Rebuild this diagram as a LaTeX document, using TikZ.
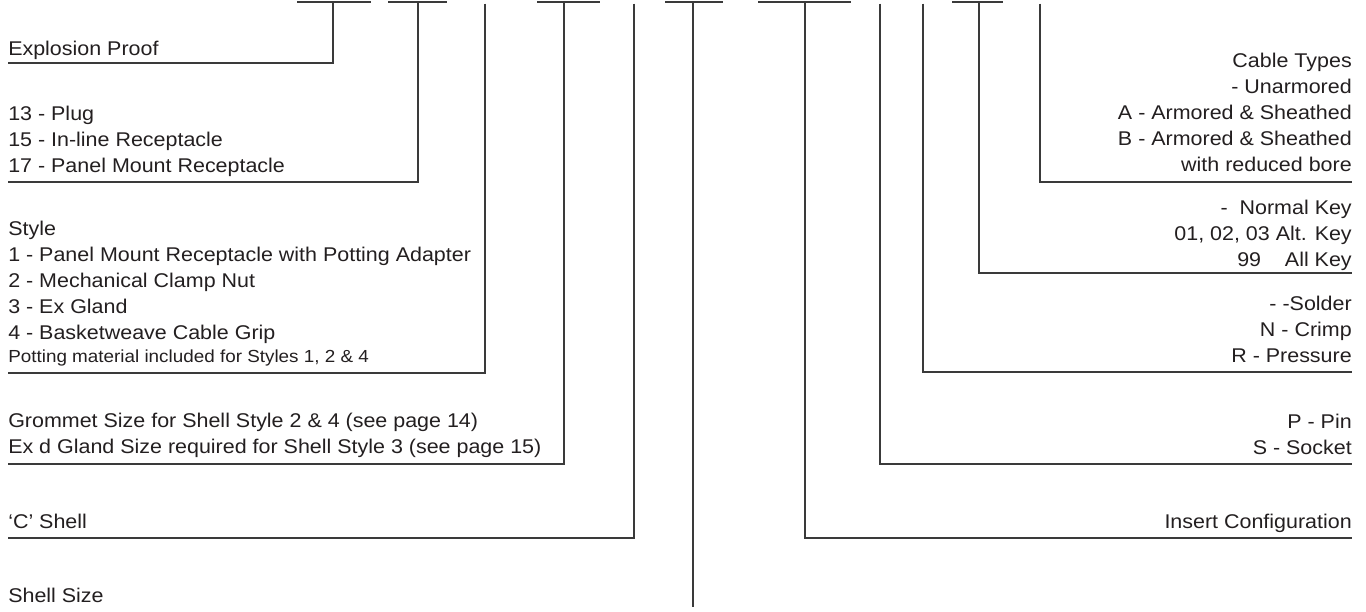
\documentclass[tikz,border=0pt]{standalone}
\usepackage{fontspec}
\setmainfont{Liberation Sans}[FakeStretch=1.08]
\usepackage{tikz}
\definecolor{ink}{HTML}{231F20}
\definecolor{rule}{HTML}{3A3A3A}

\begin{document}
\begin{tikzpicture}[x=0.75pt,y=-0.75pt,every node/.style={inner sep=0pt,text=ink,font=\fontsize{14.9}{19.5}\selectfont},lbl/.style={anchor=north west,align=left},rlbl/.style={anchor=north east,align=right},lead/.style={draw=rule,line width=1pt}]
\useasboundingbox (0,0) rectangle (1366,611);
% code fields
\foreach \a/\b in {297/371,388/447,537/600,665/723,758/851,952/1003}
  \draw[lead] (\a,2) -- (\b,2);
% left labels
\node[lbl] (proof) at (8,41) {Explosion Proof};
\node[lbl] (shelltype) at (8,106) {13 - Plug\\ 15 - In-line Receptacle\\ 17 - Panel Mount Receptacle};
\node[lbl] (style) at (8,221) {Style\\ 1 - Panel Mount Receptacle with Potting Adapter\\ 2 - Mechanical Clamp Nut\\ 3 - Ex Gland\\ 4 - Basketweave Cable Grip};
\node[anchor=base west,font=\fontsize{13.1}{16}\selectfont] (potting) at (8,362) {Potting material included for Styles 1, 2 \& 4};
\node[lbl] (grommet) at (8,413) {Grommet Size for Shell Style 2 \& 4 (see page 14)\\ Ex d Gland Size required for Shell Style 3 (see page 15)};
\node[anchor=base west] (cshell) at (8,528) {‘C’ Shell};
\node[anchor=base west] (size) at (8,602) {Shell Size};
% right labels
\node[rlbl] (cable) at (1352,53) {Cable Types\\ - Unarmored\\ A - Armored \& Sheathed\\ B - Armored \& Sheathed\\ with reduced bore};
\node[rlbl] (key) at (1352,200) {-\ \ Normal Key\\ 01, 02, 03 Alt. Key\\ 99\hspace{1.2em}All Key};
\node[rlbl] (contact) at (1352,296) {- -Solder\\ N - Crimp\\ R - Pressure};
\node[rlbl] (pin) at (1352,414) {P - Pin\\ S - Socket};
\node[anchor=base east] (insert) at (1352,528) {Insert Configuration};
% leaders
\coordinate (t1) at (333,2);    \coordinate (e1) at (8,63);
\coordinate (t2) at (418,2);    \coordinate (e2) at (8,182);
\coordinate (t3) at (485,3.5);  \coordinate (e3) at (8,373);
\coordinate (t4) at (564,2);    \coordinate (e4) at (8,464);
\coordinate (t5) at (634,3.5);  \coordinate (e5) at (8,538);
\coordinate (t6) at (693,2);    \coordinate (e6) at (693,607);
\coordinate (t7) at (805,2);    \coordinate (e7) at (1352,538);
\coordinate (t8) at (880,3.5);  \coordinate (e8) at (1352,464);
\coordinate (t9) at (923,3.5);  \coordinate (e9) at (1352,372);
\coordinate (t10) at (979,2);   \coordinate (e10) at (1352,273);
\coordinate (t11) at (1040,3.5);\coordinate (e11) at (1352,182);
\draw[lead] (t1) |- (e1);
\draw[lead] (t2) |- (e2);
\draw[lead] (t3) |- (e3);
\draw[lead] (t4) |- (e4);
\draw[lead] (t5) |- (e5);
\draw[lead] (t6) -- (e6);
\draw[lead] (t7) |- (e7);
\draw[lead] (t8) |- (e8);
\draw[lead] (t9) |- (e9);
\draw[lead] (t10) |- (e10);
\draw[lead] (t11) |- (e11);
\end{tikzpicture}
\end{document}
